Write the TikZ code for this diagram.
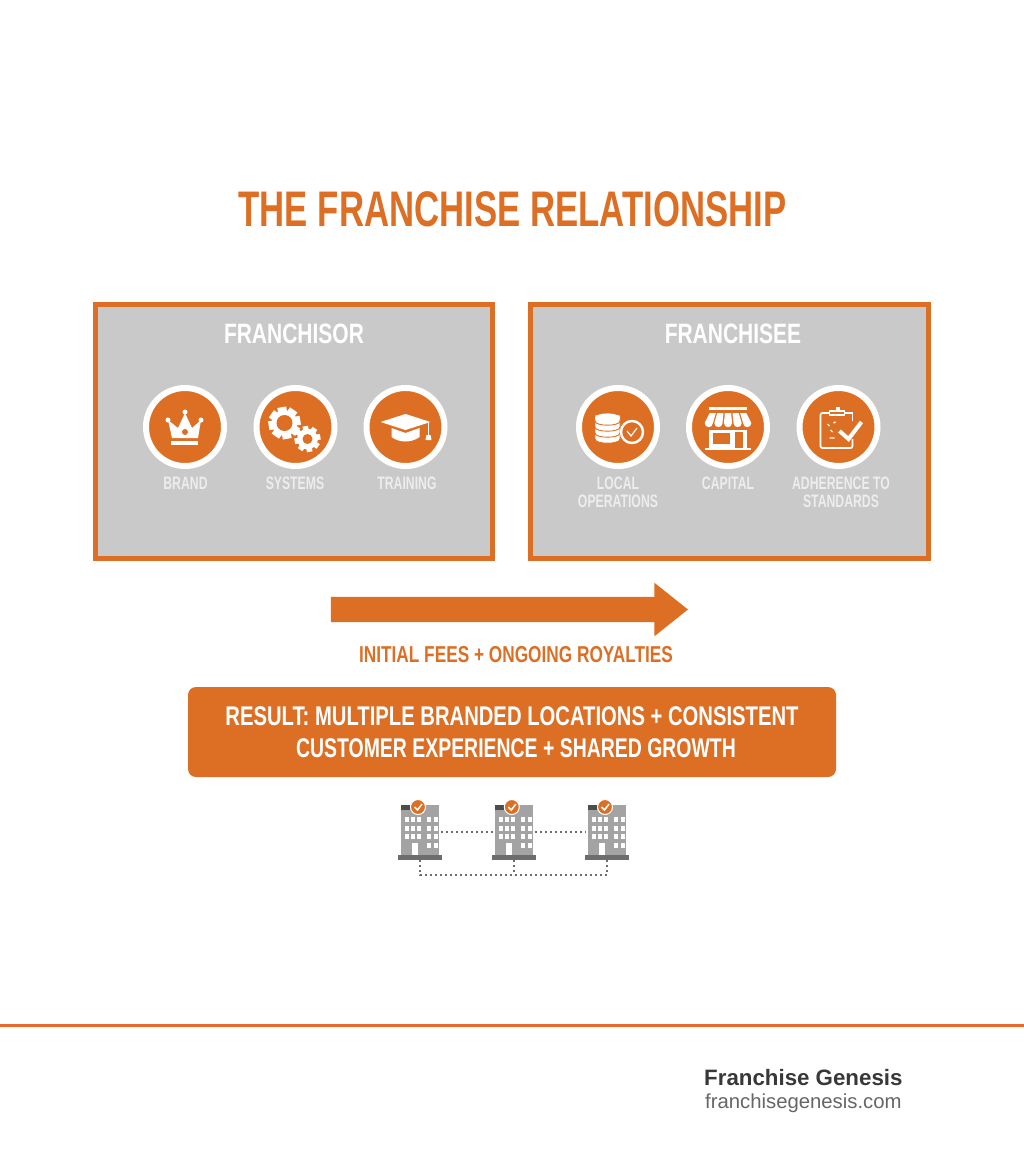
\documentclass[tikz,border=0pt]{standalone}
\usepackage{fontspec}
\usetikzlibrary{shapes.arrows}
\newfontfamily\condfont[FakeStretch=0.68]{Liberation Sans}
\newfontfamily\titlefont[FakeStretch=0.695]{Liberation Sans}
\newfontfamily\widefont[FakeStretch=0.75]{Liberation Sans}
\newfontfamily\midfont[FakeStretch=0.72]{Liberation Sans}
\setmainfont{Liberation Sans}
\definecolor{brandorange}{HTML}{DD6F25}
\definecolor{panelgray}{HTML}{C9C9C9}
\definecolor{rulecolor}{HTML}{E8692D}
\definecolor{towergray}{HTML}{A3A3A3}
\definecolor{plinthgray}{HTML}{6D6D6D}
\newcommand{\gearshape}[4]{
	\foreach \a in {0,45,...,315}
		\fill[white,rotate around={\a+10:(#1,#2)}] (#1-#4*0.28,#2-#3) rectangle (#1+#4*0.28,#2);
	\fill[white] (#1,#2) circle ({#3*0.8});
	\fill[brandorange] (#1,#2) circle (#4*0.5);
}
\tikzset{
	panel/.style={draw=brandorange,fill=panelgray,line width=5pt,minimum width=397.5pt,minimum height=254pt,inner sep=0pt},
	badge/.style={circle,draw=white,fill=brandorange,line width=6pt,minimum size=78pt,inner sep=0pt},
	panelhead/.style={text=white,font=\widefont\bfseries\fontsize{28}{30}\selectfont,inner sep=0pt},
	caption/.style={text=white!93!black,align=center,font=\condfont\bfseries\fontsize{18}{18.5}\selectfont,inner sep=0pt},
	tower/.style={fill=towergray,minimum width=38pt,minimum height=50pt,inner sep=0pt},
	plinth/.style={fill=plinthgray,minimum width=44pt,minimum height=5pt,inner sep=0pt},
	dotlink/.style={plinthgray,line width=1.8pt,dash pattern=on 2pt off 3pt},
	pics/crown/.style={code={
		\fill[white] (-17,-7) -- (-13,11) -- (13,11) -- (16,-7) -- (7,1) -- (0,-14) -- (-7,1) -- cycle;
		\fill[white] (-17,-7) circle (2.5) (0,-15) circle (2.5) (16,-7) circle (2.5);
		\fill[white] (-14,14) rectangle (13,18);
		\fill[brandorange] (0,5) circle (3);
	}},
	pics/gears/.style={code={
		\gearshape{-11}{-4}{16}{16}
		\gearshape{12}{12}{13}{10}
	}},
	pics/gradcap/.style={code={
		\fill[white] (-14,1) -- (-14,10) .. controls (-6,16) and (6,16) .. (14,10) -- (14,1) -- (0,6) -- cycle;
		\fill[white] (-25,-5) -- (0,-13) -- (25,-5) -- (0,3) -- cycle;
		\draw[white,line width=1pt] (23,-4) -- (23,8);
		\fill[white] (21,8) -- (25,8) -- (26,13) -- (20,13) -- cycle;
	}},
	pics/dbstack/.style={code={
		\foreach \h in {12,6,0,-6}
			\filldraw[fill=white,draw=brandorange,line width=0.9pt] (-23,\h) .. controls (-23,\h+5.6) and (2,\h+5.6) .. (2,\h) -- (2,\h-6) -- (-23,\h-6) -- cycle;
		\fill[white] (-10.5,-9) ellipse [x radius=12.5,y radius=4.6];
		\draw[white,fill=brandorange,line width=2.4pt] (14,5) circle (11);
		\draw[white,line width=1.2pt] (9,4) -- (13,9) -- (19,1);
	}},
	pics/storefront/.style={code={
		\fill[white] (-19,-20) rectangle (19,-17);
		\fill[white] (-19,3) rectangle (19,21);
		\fill[white] (-23,21) rectangle (23,23);
		\fill[brandorange] (-15,6) rectangle (2,17);
		\fill[brandorange] (7,5) rectangle (15,21);
		\foreach \s in {-2,...,2}
			\fill[white] ({\s*7.6-3.1},-14) -- ({\s*7.6+3.1},-14) -- ({\s*9.6+4.1},-4) .. controls ({\s*9.6+4.1},1.5) and ({\s*9.6-4.1},1.5) .. ({\s*9.6-4.1},-4) -- cycle;
	}},
	pics/checklist/.style={code={
		\draw[white,line width=1.8pt,rounded corners=2pt] (-6,-14) -- (-18,-14) -- (-18,21) -- (14,21) -- (14,12);
		\draw[white,line width=1.8pt] (6,-14) -- (14,-14) -- (14,-6);
		\draw[white,fill=brandorange,line width=1.8pt] (-9,-16) rectangle (6,-12);
		\fill[white] (-3,-20) rectangle (1,-16);
		\draw[white,line width=1.4pt] (-11,-3) -- (-9,-1) (-5,-4) -- (-3,-5) (-8,3) -- (-6,5) (-9,11) -- (-4,11);
		\draw[white,line width=4pt] (1,4) -- (10,12) -- (23,-5);
	}}
}
\begin{document}
\begin{tikzpicture}[x=1pt,y=-1pt]
		\useasboundingbox (0,0) rectangle (1024,1154);
		\fill[white] (0,0) rectangle (1024,1154);
		\node[text=brandorange,font=\titlefont\bfseries\fontsize{50}{52}\selectfont,inner sep=0pt] (title) at (512.5,209) {THE FRANCHISE RELATIONSHIP};
		\node[panel] (franchisor) at (294.2,431.5) {};
		\node[panel] (franchisee) at (729.5,431.5) {};
		\node[panelhead] (franchisorhead) at (294,334) {FRANCHISOR};
		\node[panelhead] (franchiseehead) at (733,334) {FRANCHISEE};
		\node[badge] (brand) at (185,427) {};
		\node[badge] (systems) at (295.5,427) {};
		\node[badge] (training) at (405.5,427) {};
		\node[badge] (local) at (618,427) {};
		\node[badge] (capital) at (728,427) {};
		\node[badge] (standards) at (838.5,427) {};
		\pic at (brand.center) {crown};
		\pic at (systems.center) {gears};
		\pic at (training.center) {gradcap};
		\pic at (local.center) {dbstack};
		\pic at (capital.center) {storefront};
		\pic at (standards.center) {checklist};
		\node[caption] (brandtext) at (185.5,483) {BRAND};
		\node[caption] (systemstext) at (295,483) {SYSTEMS};
		\node[caption] (trainingtext) at (407,483) {TRAINING};
		\node[caption,anchor=north] (localtext) at (618,476.5) {LOCAL\\OPERATIONS};
		\node[caption] (capitaltext) at (728,483) {CAPITAL};
		\node[caption,anchor=north] (standardstext) at (841,476.5) {ADHERENCE TO\\STANDARDS};
		\node[single arrow,fill=brandorange,minimum height=357pt,minimum width=53pt,single arrow head extend=14pt,single arrow tip angle=77,inner sep=0pt] (feeflow) at (501.5,609.5) {\rule{0pt}{25pt}};
		\node[text=brandorange,font=\widefont\bfseries\fontsize{23}{25}\selectfont,inner sep=0pt] (feetext) at (516,655) {INITIAL FEES + ONGOING ROYALTIES};
		\node[fill=brandorange,rounded corners=8pt,minimum width=648pt,minimum height=90pt,text=white,align=center,inner sep=0pt,font=\widefont\bfseries\fontsize{27}{32}\selectfont] (result) at (512,732) {RESULT: MULTIPLE BRANDED LOCATIONS + CONSISTENT\\\hspace*{8pt}\midfont CUSTOMER EXPERIENCE + SHARED GROWTH};
		\foreach \n/\x in {A/420,B/513.8,C/607}{
			\node[tower] (tower\n) at (\x,830) {};
			\node[plinth] (plinth\n) at (\x,857.5) {};
			\fill[plinthgray!70!black] (\x-19,805) rectangle (\x-10,809.5);
			\foreach \cx in {-13,-7,-0.7}
				\foreach \cy in {819,828.3,836.7}
					\fill[white] (\x+\cx-2,\cy-2.5) rectangle (\x+\cx+2,\cy+2.5);
			\foreach \cx in {8.7,15.7}
				\foreach \cy in {819,828.3,836.7,845.7}
					\fill[white] (\x+\cx-2,\cy-2.5) rectangle (\x+\cx+2,\cy+2.5);
			\fill[white] (\x-8.3,843) rectangle (\x-1.7,855);
			\node[circle,fill=brandorange,draw=white,line width=1pt,minimum size=15pt,inner sep=0pt] (tick\n) at (\x-2,807) {};
			\draw[white,line width=1.5pt] (\x-5.5,807) -- (\x-2.5,810) -- (\x+2,804);
		}
		\draw[dotlink,shorten <=2pt,shorten >=2pt] ([yshift=-2pt]towerA.east) -- ([yshift=-2pt]towerB.west);
		\draw[dotlink,shorten <=2pt,shorten >=2pt] ([yshift=-2pt]towerB.east) -- ([yshift=-2pt]towerC.west);
		\draw[dotlink] (plinthA.south) -- ++(0,15) -| (plinthC.south);
		\draw[dotlink] (plinthB.south) -- ++(0,15);
		\fill[rulecolor] (0,1023.5) rectangle (1024,1026.5);
		\node[anchor=west,text=black!78,inner sep=0pt,font=\bfseries\fontsize{22.3}{25}\selectfont] (company) at (704,1078) {Franchise Genesis};
		\node[anchor=west,text=black!60,inner sep=0pt,font=\fontsize{20.3}{22}\selectfont] (website) at (705,1103) {franchisegenesis.com};
		\end{tikzpicture}
\end{document}
